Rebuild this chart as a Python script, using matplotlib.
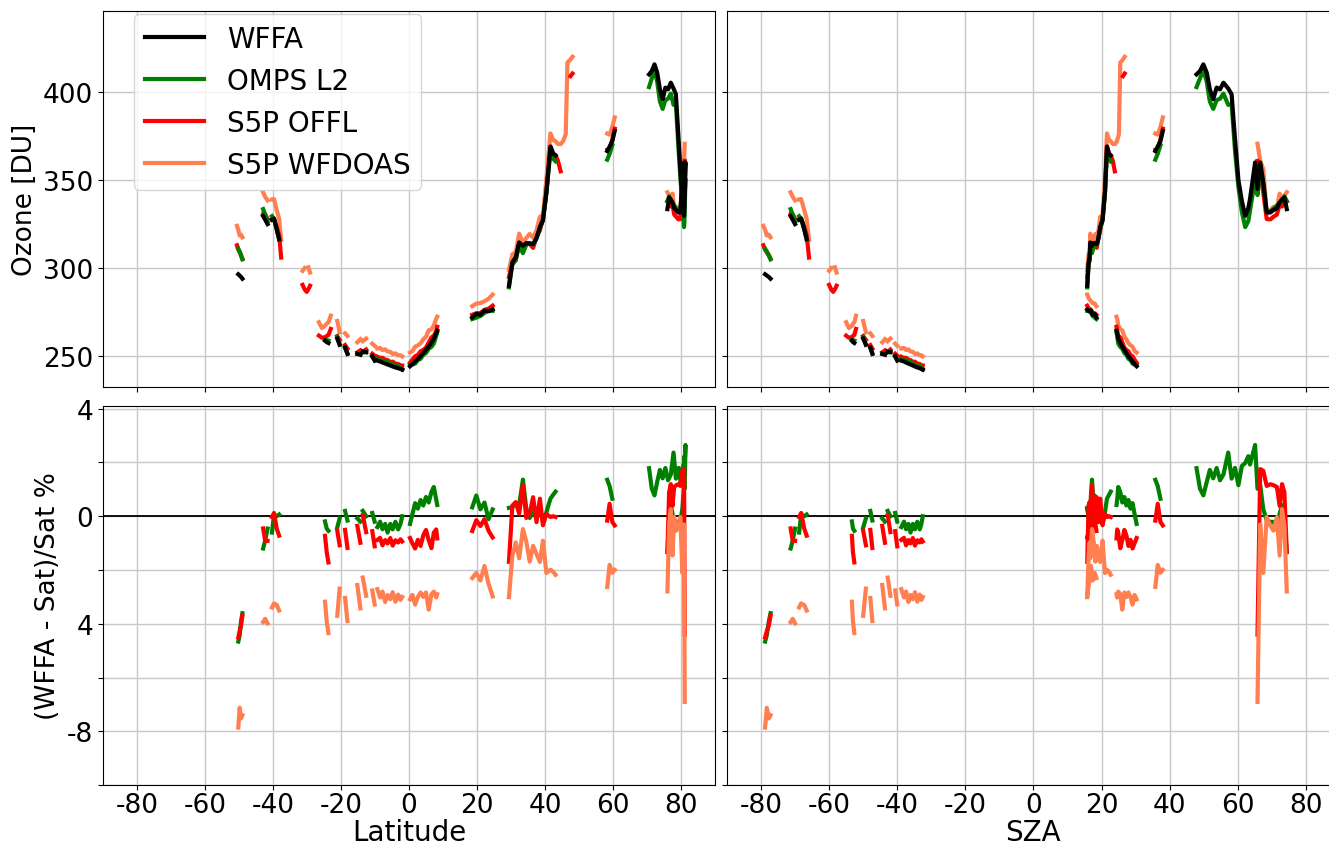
import numpy as np
import matplotlib
matplotlib.use('Agg')
import matplotlib.pyplot as plt

plt.rcParams['axes.unicode_minus'] = False

nan = np.nan

# flight track samples; NaN rows split the track into separate pieces
lat = [
    -50.6, -50.2, -49.8, -49.4, -49.0, nan,
    -42.9, -42.3, -41.6, nan,
    -40.3, -39.7, -38.9, -38.2, -37.6, nan,
    -31.3, -30.7, -30.1, -29.6, -29.1, nan,
    -26.5, -25.6, -24.7, -24.2, -23.7, -23.0, nan,
    -21.1, -20.4, nan,
    -18.8, -18.1, nan,
    -15.2, -14.3, nan,
    -13.6, -12.6, nan,
    -10.8, -10.1, nan,
    -9.3, -8.5, -7.8, -7.0, -6.3, -5.5, -4.8, -4.0, -3.2, -2.5, -2.0, nan,
    0.3, 1.0, 1.8, 2.6, 3.4, 4.2, 5.0, 5.8, 6.6, 7.3, 8.0, 8.3, nan,
    18.6, 19.8, 21.0, 22.2, 23.4, 24.6, nan,
    29.4, 30.4, 31.4, 32.4, 33.5, 34.5, 35.5, 36.5, 37.5, 38.5, 39.4, 40.4, 41.6, 42.4, 43.1,
    43.8, 44.6, 45.3, 46.1, 46.6, 47.5, 48.1, nan,
    58.3, 59.0, 59.8, 60.5, nan,
    70.6, 71.4, 72.2, 73.0, 73.8, 74.6, 75.4, 76.2, 77.0, 77.8, 78.5, 79.3, 80.0, 80.6, 80.9,
    81.0, 81.1, 81.3, 81.1, 80.9, 80.4, 79.8, 79.2, 78.6, 78.0, 77.5, 77.0, 76.5, 76.0,
]

sza = [
    -79.3, -78.8, -78.3, -77.7, -77.2, nan,
    -71.3, -70.7, -70.0, nan,
    -68.8, -68.2, -67.3, -66.6, -65.9, nan,
    -60.0, -59.4, -58.8, -58.3, -57.8, nan,
    -55.0, -54.2, -53.3, -53.0, -52.6, -52.1, nan,
    -50.0, -49.2, nan,
    -47.9, -47.3, nan,
    -44.4, -43.6, nan,
    -42.8, -42.0, nan,
    -40.6, -40.0, nan,
    -38.8, -38.0, -37.4, -36.7, -36.1, -35.4, -34.8, -34.1, -33.4, -32.9, -32.5, nan,
    30.3, 29.7, 29.1, 28.5, 27.9, 27.3, 26.7, 26.1, 25.5, 24.9, 24.6, 24.4, nan,
    18.5, 18.0, 17.4, 16.9, 16.3, 15.8, nan,
    15.8, 16.2, 16.5, 16.7, 17.2, 17.7, 18.2, 18.6, 19.1, 19.6, 20.3, 21.0, 21.6, 22.2, 22.7,
    23.3, 23.9, 24.5, 25.1, 25.5, 26.3, 26.8, nan,
    35.8, 36.5, 37.3, 38.0, nan,
    47.9, 48.9, 49.9, 50.9, 51.8, 52.8, 53.8, 54.8, 55.8, 57.2, 58.2, 59.2, 60.2, 61.2, 62.2,
    63.1, 63.6, 65.1, 65.8, 66.6, 67.5, 68.5, 69.6, 70.5, 71.5, 72.3, 73.0, 73.7, 74.4,
]

# total ozone [DU]
wffa = [
    nan, 296.5, 295.8, 295.0, 294.0, nan,
    329.5, 327.5, 325.0, nan,
    327.5, 328.2, 322.0, 316.5, nan, nan,
    nan, nan, nan, nan, nan, nan,
    nan, nan, 258.8, 258.0, 257.5, nan, nan,
    260.0, 256.5, nan,
    255.0, 251.3, nan,
    251.3, 250.8, nan,
    252.6, 252.3, nan,
    250.0, 247.5, nan,
    247.5, 247.0, 246.4, 245.8, 245.3, 244.7, 244.2, 243.6, 243.2, 242.7, 242.4, nan,
    244.3, 245.5, 247.0, 248.5, 250.0, 251.8, 253.6, 255.5, 257.6, 260.0, 263.0, 264.5, nan,
    272.0, 274.0, 273.5, 276.0, 275.5, 276.5, nan,
    290.0, 303.3, 306.1, 314.6, 312.7, 314.2, 314.0, 313.7, 317.0, 323.5, 327.0, 343.0, 369.0, 365.0, 364.0,
    nan, nan, nan, nan, nan, nan, nan, nan,
    366.5, 369.0, 372.2, 377.9, nan,
    410.0, 411.9, 415.7, 411.0, 401.5, 395.9, 402.5, 401.5, 405.3, 402.0, 398.7, 373.2, 350.0, 338.2, 329.7,
    334.0, 339.2, 360.0, 345.0, 360.0, 348.7, 331.6, 331.6, 333.0, 334.0, 337.3, 339.0, 340.1, 333.5,
]

omps = [
    nan, 311.0, 309.5, 307.0, 305.0, nan,
    333.5, 330.5, 326.5, nan,
    329.5, 328.0, 322.0, 316.3, nan, nan,
    nan, nan, nan, nan, nan, nan,
    nan, nan, 259.3, 259.2, 258.9, nan, nan,
    261.1, 256.7, nan,
    254.5, 251.7, nan,
    251.5, 251.3, nan,
    252.1, 252.3, nan,
    249.7, 248.0, nan,
    248.5, 247.5, 247.6, 246.5, 246.8, 245.4, 245.4, 244.1, 244.4, 243.4, 242.4, nan,
    245.0, 245.3, 245.8, 247.8, 248.5, 250.8, 251.8, 254.2, 255.3, 257.2, 261.4, 263.4, nan,
    271.1, 271.9, 272.8, 274.6, 275.8, 275.8, nan,
    289.1, 302.3, 304.6, 313.3, 308.5, 313.3, 314.2, 313.2, 317.0, 322.4, 327.7, 342.5, 366.6, 362.1, 360.7,
    nan, nan, nan, nan, nan, nan, nan, nan,
    361.6, 364.9, 369.8, nan, nan,
    402.8, 407.7, 412.5, 405.8, 394.7, 390.4, 395.4, 396.2, 399.1, 392.7, 393.2, 366.6, 346.0, 332.0, 323.3,
    326.7, 332.8, 350.7, 341.5, 355.9, 347.8, 332.1, 332.3, 333.7, 335.6, 337.0, 337.6, 340.8, 338.0,
]

offl = [
    313.0, 310.5, 309.0, 307.5, 305.3, nan,
    331.0, 330.5, 328.0, nan,
    327.6, 327.8, 323.5, 318.8, 306.0, nan,
    290.5, 288.0, 286.5, 288.0, 290.0, nan,
    261.7, 260.5, 260.7, 261.5, 262.0, 265.5, nan,
    261.4, 259.3, nan,
    256.3, 254.3, nan,
    252.2, 253.3, nan,
    252.5, 253.8, nan,
    251.4, 250.3, nan,
    249.7, 249.0, 249.1, 248.0, 247.8, 246.7, 246.9, 245.8, 245.6, 244.8, 244.7, nan,
    246.3, 248.0, 250.0, 250.7, 252.8, 253.6, 254.9, 257.8, 260.7, 261.6, 264.3, 266.7, nan,
    273.5, 274.4, 274.5, 276.3, 277.0, 278.7, nan,
    295.0, 302.1, 304.5, 314.3, 309.1, 314.4, 313.7, 311.5, 317.7, 321.4, 328.1, 342.7, 369.1, 365.0, 364.1,
    361.0, 355.0, nan, nan, nan, 409.0, 410.5, nan,
    367.1, 367.3, 373.0, 379.2, nan,
    nan, nan, nan, nan, nan, nan, nan, nan, nan, nan, nan, nan, nan, nan, nan,
    nan, nan, nan, 360.9, 353.8, 342.9, 327.9, 327.7, 329.2, 330.4, 336.0, 335.0, 337.1, 338.0,
]

wfdoas = [
    324.0, 321.8, 318.5, 319.0, 317.5, nan,
    343.0, 340.5, 338.5, nan,
    339.0, 339.2, 333.0, 328.0, 316.0, nan,
    298.5, 300.0, nan, 300.5, 297.5, nan,
    269.3, 266.0, 267.3, 268.5, 269.2, 273.0, nan,
    270.0, 263.6, nan,
    263.0, 261.5, nan,
    257.9, 259.7, nan,
    258.5, 260.0, nan,
    257.1, 255.9, nan,
    254.4, 254.7, 253.5, 253.9, 252.7, 252.5, 251.3, 251.6, 250.5, 250.5, 249.9, nan,
    252.1, 252.9, 255.4, 256.2, 257.3, 259.6, 261.0, 264.7, 265.3, 267.5, 271.2, 272.4, nan,
    278.4, 279.9, 280.2, 281.2, 282.6, 285.0, nan,
    299.0, 307.8, 309.1, 319.6, 314.2, 317.2, 319.4, 317.2, 321.5, 329.1, 330.0, 350.4, 376.5, 372.7, 372.1,
    370.5, 370.4, 372.0, 376.0, 416.7, 418.5, 420.0, nan,
    376.4, 375.8, 380.2, 385.6, nan,
    nan, nan, nan, nan, nan, nan, nan, nan, nan, nan, nan, nan, nan, nan, nan,
    nan, nan, nan, 370.6, 361.1, 356.2, 331.7, 332.8, 334.8, 334.1, 342.3, 338.1, 341.3, 343.1,
]

names = ['WFFA', 'OMPS L2', 'S5P OFFL', 'S5P WFDOAS']
colors = ['black', 'green', 'red', 'coral']


def main():
    lat_a = np.array(lat)
    sza_a = np.array(sza)
    ref = np.array(wffa)
    sats = [np.array(omps), np.array(offl), np.array(wfdoas)]

    fig = plt.figure(figsize=(13.29, 8.45), dpi=100)
    ax_tl = fig.add_axes([0.0775, 0.5408, 0.4605, 0.445])
    ax_tr = fig.add_axes([0.547, 0.5408, 0.4612, 0.445], sharey=ax_tl)
    ax_bl = fig.add_axes([0.0775, 0.0698, 0.4605, 0.4485], sharex=ax_tl)
    ax_br = fig.add_axes([0.547, 0.0698, 0.4612, 0.4485], sharex=ax_tr, sharey=ax_bl)

    lw = 3
    for ax_top, ax_bot, xx in [(ax_tl, ax_bl, lat_a), (ax_tr, ax_br, sza_a)]:
        # ozone columns, WFFA drawn on top
        for vals, name, col in zip(sats[::-1], names[:0:-1], colors[:0:-1]):
            ax_top.plot(xx, vals, color=col, lw=lw, label=name)
        ax_top.plot(xx, ref, color=colors[0], lw=lw, label=names[0], zorder=3)

        # relative difference WFFA vs satellite
        ax_bot.axhline(0, color='black', lw=1.3)
        for vals, col in zip(sats, colors[1:]):
            diff = (ref - vals) / vals * 100.
            ax_bot.plot(xx, diff, color=col, lw=lw)

    for ax in [ax_tl, ax_tr, ax_bl, ax_br]:
        ax.set_xlim(-90, 90)
        ax.set_xticks(np.arange(-80, 81, 20))
        ax.grid(True, color='#c8c8c8', lw=1)
        ax.set_axisbelow(True)
        ax.tick_params(labelsize=19)
        ax.tick_params(axis='x', pad=1.5)

    ax_tl.set_ylim(232.5, 446)
    ax_tl.set_yticks([250, 300, 350, 400])
    ax_bl.set_ylim(-10, 4.1)
    ax_bl.set_yticks(np.arange(-10, 5, 2))
    ax_bl.set_yticklabels(['', '-8', '', '4', '', '0', '', '4'])

    for ax in [ax_tl, ax_tr]:
        ax.tick_params(labelbottom=False)
    for ax in [ax_tr, ax_br]:
        ax.tick_params(labelleft=False)

    ax_tl.set_ylabel('Ozone [DU]', fontsize=19)
    ax_bl.set_ylabel('(WFFA - Sat)/Sat %', fontsize=19)
    ax_bl.set_xlabel('Latitude', fontsize=20, labelpad=0)
    ax_br.set_xlabel('SZA', fontsize=20, labelpad=0)

    handles, labels = ax_tl.get_legend_handles_labels()
    order = [labels.index(n) for n in names]
    ax_tl.legend([handles[i] for i in order], [labels[i] for i in order],
                 loc='upper left', bbox_to_anchor=(0.05, 0.992), borderaxespad=0,
                 fontsize=20, handlelength=2.15)

    fig.savefig('out.png', dpi=100)
    plt.close(fig)


if __name__ == '__main__':
    main()
